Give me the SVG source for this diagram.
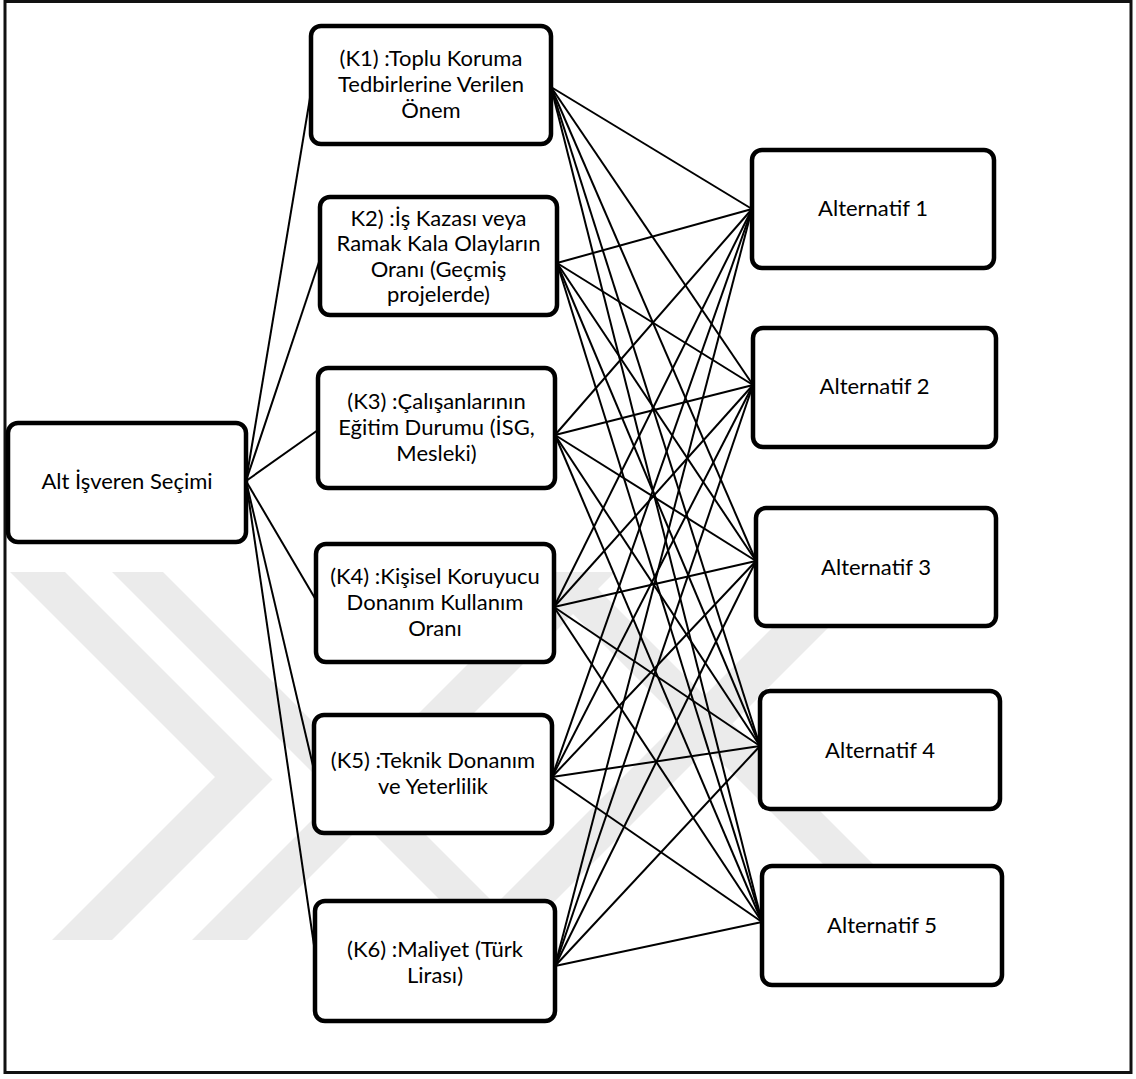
<svg xmlns="http://www.w3.org/2000/svg" width="1136" height="1079" viewBox="0 0 1136 1079">
<style>
.node rect{fill:#fff;stroke:#000;stroke-width:4.5}
.node text{font-family:Lato,"Open Sans","Liberation Sans",sans-serif;font-size:22px;fill:#000;text-anchor:middle}
.wm{fill:#ebebeb}
#connectors line{stroke:#000;stroke-width:2}
</style>
<rect x="0" y="0" width="1136" height="1079" fill="#fff"/>
<rect x="5" y="1.5" width="1126" height="1071" fill="none" stroke="#111" stroke-width="3"/>
<g id="watermark">
<polygon class="wm" points="10,572 65,572 272.5,779.5 112,940 52,940 215,777"/>
<polygon class="wm" points="112,572 163,572 531,940 480,940"/>
<polygon class="wm" points="192,940 247,940 615,572 560,572"/>
<polygon class="wm" points="460,940 516,940 884,572 828,572"/>
<polygon class="wm" points="531,572 581,572 949,940 899,940"/>
</g>
<g id="connectors">
<line x1="246" y1="481" x2="311" y2="92"/>
<line x1="246" y1="481" x2="320" y2="259"/>
<line x1="246" y1="481" x2="318" y2="430"/>
<line x1="246" y1="481" x2="316" y2="600"/>
<line x1="246" y1="481" x2="314" y2="770"/>
<line x1="246" y1="481" x2="315" y2="952"/>
<line x1="551" y1="87" x2="752" y2="209"/>
<line x1="551" y1="87" x2="753" y2="385"/>
<line x1="551" y1="87" x2="756" y2="561"/>
<line x1="551" y1="87" x2="760" y2="746"/>
<line x1="551" y1="87" x2="762" y2="922"/>
<line x1="557" y1="263" x2="752" y2="209"/>
<line x1="557" y1="263" x2="753" y2="385"/>
<line x1="557" y1="263" x2="756" y2="561"/>
<line x1="557" y1="263" x2="760" y2="746"/>
<line x1="557" y1="263" x2="762" y2="922"/>
<line x1="555" y1="435" x2="752" y2="209"/>
<line x1="555" y1="435" x2="753" y2="385"/>
<line x1="555" y1="435" x2="756" y2="561"/>
<line x1="555" y1="435" x2="760" y2="746"/>
<line x1="555" y1="435" x2="762" y2="922"/>
<line x1="554" y1="607" x2="752" y2="209"/>
<line x1="554" y1="607" x2="753" y2="385"/>
<line x1="554" y1="607" x2="756" y2="561"/>
<line x1="554" y1="607" x2="760" y2="746"/>
<line x1="554" y1="607" x2="762" y2="922"/>
<line x1="552" y1="777" x2="752" y2="209"/>
<line x1="552" y1="777" x2="753" y2="385"/>
<line x1="552" y1="777" x2="756" y2="561"/>
<line x1="552" y1="777" x2="760" y2="746"/>
<line x1="552" y1="777" x2="762" y2="922"/>
<line x1="555" y1="966" x2="752" y2="209"/>
<line x1="555" y1="966" x2="753" y2="385"/>
<line x1="555" y1="966" x2="756" y2="561"/>
<line x1="555" y1="966" x2="760" y2="746"/>
<line x1="555" y1="966" x2="762" y2="922"/>
</g>
<g id="root" class="node">
<rect x="8" y="423" width="238" height="119" rx="10"/>
<text x="127" y="489">Alt İşveren Seçimi</text>
</g>
<g id="k1" class="node">
<rect x="311" y="26" width="240" height="118" rx="10"/>
<text x="431" y="66">(K1) :Toplu Koruma</text>
<text x="431" y="92">Tedbirlerine Verilen</text>
<text x="431" y="118">Önem</text>
</g>
<g id="k2" class="node">
<rect x="320" y="197" width="237" height="118" rx="10"/>
<text x="438.5" y="226">K2) :İş Kazası veya</text>
<text x="438.5" y="251">Ramak Kala Olayların</text>
<text x="438.5" y="277">Oranı (Geçmiş</text>
<text x="438.5" y="302">projelerde)</text>
</g>
<g id="k3" class="node">
<rect x="318" y="368" width="237" height="120" rx="10"/>
<text x="436.5" y="409">(K3) :Çalışanlarının</text>
<text x="436.5" y="435">Eğitim Durumu (İSG,</text>
<text x="436.5" y="461">Mesleki)</text>
</g>
<g id="k4" class="node">
<rect x="316" y="544" width="238" height="118" rx="10"/>
<text x="435" y="584">(K4) :Kişisel Koruyucu</text>
<text x="435" y="610">Donanım Kullanım</text>
<text x="435" y="636">Oranı</text>
</g>
<g id="k5" class="node">
<rect x="314" y="715" width="238" height="118" rx="10"/>
<text x="433" y="768">(K5) :Teknik Donanım</text>
<text x="433" y="794">ve Yeterlilik</text>
</g>
<g id="k6" class="node">
<rect x="315" y="901" width="240" height="120" rx="10"/>
<text x="435" y="957">(K6) :Maliyet (Türk</text>
<text x="435" y="983">Lirası)</text>
</g>
<g id="a1" class="node">
<rect x="752" y="150" width="242" height="118" rx="10"/>
<text x="873" y="216">Alternatif 1</text>
</g>
<g id="a2" class="node">
<rect x="753" y="328" width="243" height="119" rx="10"/>
<text x="874.5" y="394">Alternatif 2</text>
</g>
<g id="a3" class="node">
<rect x="756" y="508" width="240" height="118" rx="10"/>
<text x="876" y="575">Alternatif 3</text>
</g>
<g id="a4" class="node">
<rect x="760" y="691" width="240" height="118" rx="10"/>
<text x="880" y="758">Alternatif 4</text>
</g>
<g id="a5" class="node">
<rect x="762" y="866" width="240" height="119" rx="10"/>
<text x="882" y="933">Alternatif 5</text>
</g>
</svg>
